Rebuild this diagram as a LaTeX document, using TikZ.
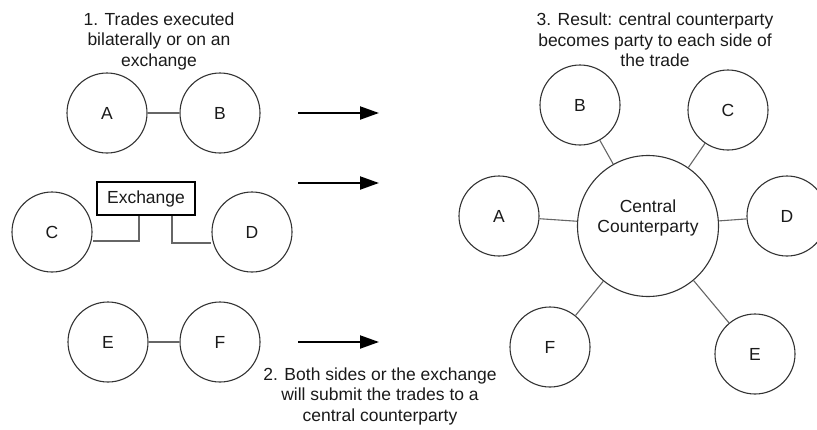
\documentclass[tikz,border=0pt]{standalone}
\usepackage{fontspec}
\setmainfont{Liberation Sans}
\usetikzlibrary{arrows.meta}
\definecolor{ink}{HTML}{1A1A1A}
\definecolor{edge}{HTML}{333333}
\definecolor{wire}{HTML}{666666}
\begin{document}
\begin{tikzpicture}[x=1pt,y=-1pt,
  every node/.style={font=\fontsize{17.5}{20.5}\selectfont, text=ink},
  party/.style={circle,draw=edge,line width=1.1pt,minimum size=80pt,inner sep=0pt},
  ccp/.style={circle,draw=edge,line width=1.1pt,minimum size=141pt,inner sep=0pt},
  exbox/.style={draw=black,line width=1.8pt,minimum width=98pt,minimum height=33pt,inner sep=0pt},
  conn/.style={draw=wire,line width=1.1pt},
  bigarrow/.style={draw=black,line width=2pt,-{Triangle[length=19pt,width=13pt]}},
  caption/.style={align=center}]
\useasboundingbox (0,0) rectangle (817,429);
% captions
\node[caption] (t1) at (159,41) {1. Trades executed\\bilaterally or on an\\exchange};
\node[caption] (t2) at (380,396) {2. Both sides or the exchange\\will submit the trades to a\\central counterparty};
\node[caption] (t3) at (655,40) {3. Result: central counterparty\\becomes party to each side of\\the trade};
% left side
\node[party] (A) at (107,113) {A};
\node[party] (B) at (220,113) {B};
\draw[conn] (A) -- (B);
\node[party] (C) at (52,232) {C};
\node[party] (D) at (252,232) {D};
\node[exbox] (Ex) at (146,198.5) {Exchange};
\coordinate (exL) at (139,241);
\coordinate (exR) at (172,243);
\draw[conn] (Ex.south -| exL) -- (exL) -- (C.east |- exL);
\draw[conn] (Ex.south -| exR) -- (exR) -- (D.west |- exR);
\node[party] (E) at (108,342) {E};
\node[party] (F) at (220,342) {F};
\draw[conn] (E) -- (F);
% arrows
\coordinate (a1s) at (298,113); \coordinate (a1e) at (379,113);
\coordinate (a2s) at (298,183); \coordinate (a2e) at (379,183);
\coordinate (a3s) at (298,342); \coordinate (a3e) at (379,342);
\draw[bigarrow] (a1s) -- (a1e);
\draw[bigarrow] (a2s) -- (a2e);
\draw[bigarrow] (a3s) -- (a3e);
% right side
\node[ccp] (CCP) at (648,226) {};
\node[caption] (ccplabel) at (648,218) {Central\\Counterparty};
\node[party] (rA) at (499,216) {A};
\node[party] (rB) at (580,105) {B};
\node[party] (rC) at (728,110) {C};
\node[party] (rD) at (787,216) {D};
\node[party] (rE) at (755,354) {E};
\node[party] (rF) at (550,347) {F};
\foreach \p in {rA,rB,rC,rD,rE,rF} \draw[conn] (\p) -- (CCP);
\end{tikzpicture}
\end{document}
